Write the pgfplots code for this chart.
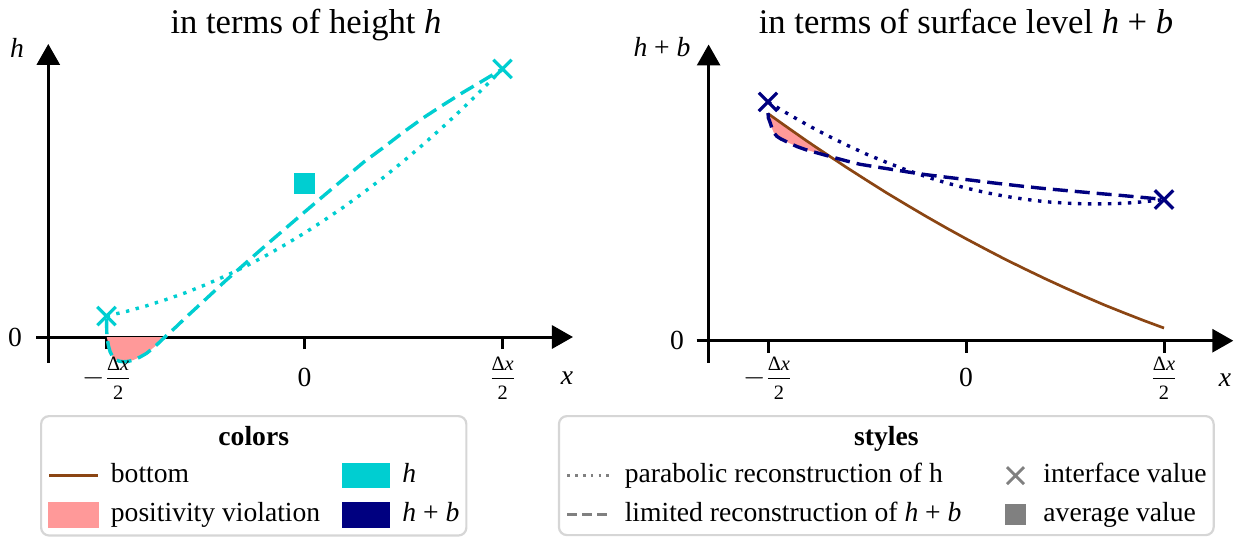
\documentclass[border=0pt]{standalone}
\usepackage{fontspec}
\setmainfont{Liberation Serif}
\usepackage{amsmath}
\usepackage{pgfplots}
\pgfplotsset{compat=1.18}
\usetikzlibrary{arrows.meta}
\definecolor{hcol}{HTML}{00CED1}
\definecolor{hbcol}{HTML}{000080}
\definecolor{botcol}{HTML}{8B4513}
\definecolor{viol}{HTML}{FF9999}
\definecolor{legframe}{HTML}{D6D6D6}
\newcommand\lf{\fontsize{13.8}{16}\selectfont}
\newcommand\tf{\fontsize{17.3}{20}\selectfont}
\newcommand\fr[1]{\mbox{\fontsize{10.2}{11}\selectfont #1}}
\newcommand\num{\fr{Δ\textit{x}\rule[-3.4pt]{0pt}{3.4pt}}}
\newcommand\den{\fr{\rule{0pt}{9.6pt}2}}
\newcommand\mhalf{$-\frac{\num}{\den}$}
\newcommand\phalf{$\frac{\num}{\den}$}
\tikzset{
  legsty/.style={draw=legframe, line width=1.1pt, rounded corners=4pt, fill=white, font=\lf,
    inner xsep=3.5pt, inner ysep=4pt, row sep=7pt,
    nodes={inner sep=0pt, text height=9.5pt, text depth=3pt},
    /tikz/every odd column/.style={column sep=6pt}},
}
\pgfplotsset{
  panel/.style={
    x=99pt, y=99pt, anchor=origin, clip=false,
    axis x line=middle, axis y line=left,
    axis line style={line width=1.5pt, -{Triangle[length=10.5pt,width=11.5pt]}},
    xtick={-1,0,1}, ytick={0}, xticklabels={,,}, yticklabels={},
    tick align=outside, major tick length=6pt,
    tick style={line width=1.5pt, black},
  },
  dotst/.style={line width=1.7pt, dash pattern=on 1.7pt off 3.3pt},
  dashst/.style={line width=1.7pt, dash pattern=on 7.5pt off 3.5pt},
}
\begin{document}
\begin{tikzpicture}[font=\lf]
\useasboundingbox (0,0) rectangle (622.5pt,269pt);
% ---------------- left panel ----------------
\begin{axis}[panel, at={(152.25pt,100.5pt)},
  xmin=-1.294, xmax=1.356, ymin=-0.131, ymax=1.48,
  legend columns=2, legend cell align=left,
  legend style={legsty, at={(-0.0158,-0.1632)}, anchor=north west, name=legA,
    /tikz/every even column/.style={column sep=11pt}}]
\addplot[fill=viol, draw=none, forget plot] coordinates {
(-1,0) (-0.998,0) (-0.99,-0.045) (-0.982,-0.074) (-0.97,-0.098) (-0.957,-0.113)
(-0.935,-0.122) (-0.915,-0.125) (-0.89,-0.123) (-0.864,-0.116) (-0.83,-0.101)
(-0.797,-0.082) (-0.75,-0.043) (-0.705,0)};
\addplot[hcol, dotst, forget plot] coordinates {
(-1,0.106) (-0.9,0.129) (-0.8,0.157) (-0.7,0.189) (-0.6,0.224) (-0.5,0.264)
(-0.4,0.308) (-0.3,0.356) (-0.2,0.408) (-0.1,0.465) (0,0.525) (0.1,0.590)
(0.2,0.658) (0.3,0.731) (0.4,0.807) (0.5,0.888) (0.6,0.973) (0.7,1.062)
(0.8,1.155) (0.9,1.253) (1,1.354)};
\addplot[hcol, dashst, forget plot] coordinates {
(-1,0.09) (-0.998,0) (-0.99,-0.045) (-0.982,-0.074) (-0.97,-0.098) (-0.957,-0.113)
(-0.935,-0.122) (-0.915,-0.125) (-0.89,-0.123) (-0.864,-0.116) (-0.83,-0.101)
(-0.797,-0.082) (-0.75,-0.043) (-0.705,0) (-0.65,0.05) (-0.6,0.098) (-0.5,0.19)
(-0.4,0.283) (-0.3,0.371) (-0.2,0.459) (-0.1,0.545) (0,0.631) (0.1,0.716)
(0.2,0.8) (0.3,0.884) (0.4,0.958) (0.5,1.035) (0.6,1.107) (0.7,1.172)
(0.8,1.235) (0.9,1.294) (1,1.354)};
\addplot[hcol, only marks, mark=x, mark size=6.5pt, mark options={line width=1.6pt}, forget plot]
  coordinates {(-1,0.106) (1,1.354)};
\addplot[hcol, only marks, mark=square*, mark size=5pt, mark options={line width=0pt}, forget plot]
  coordinates {(0,0.773)};
\addlegendimage{empty legend}\addlegendentry{\mbox{}}
\addlegendimage{empty legend}\addlegendentry{\mbox{}}
\addlegendimage{legend image code/.code={\draw[botcol,line width=1.4pt,sharp corners](0pt,0pt)--(24pt,0pt);}}
\addlegendentry{bottom}
\addlegendimage{legend image code/.code={\fill[hcol,sharp corners](0pt,-5.75pt) rectangle (23pt,5.75pt);}}
\addlegendentry{\textit{h}}
\addlegendimage{legend image code/.code={\fill[viol,sharp corners](0pt,-5.75pt) rectangle (24pt,5.75pt);}}
\addlegendentry{positivity violation}
\addlegendimage{legend image code/.code={\fill[hbcol,sharp corners](0pt,-5.75pt) rectangle (23pt,5.75pt);}}
\addlegendentry{\textit{h} + \textit{b}}
\end{axis}
% ---------------- right panel ----------------
\begin{axis}[panel, at={(483pt,98.65pt)},
  xmin=-1.300, xmax=1.35, ymin=-0.112, ymax=1.496,
  legend columns=2, legend cell align=left,
  legend style={legsty, at={(-0.2873,-0.1637)}, anchor=north west, name=legB,
    /tikz/every even column/.style={column sep=18.5pt}}]
\addplot[fill=viol, draw=none, forget plot] coordinates {
(-1,1.147) (-0.95,1.111) (-0.9,1.076) (-0.85,1.041) (-0.8,1.006) (-0.768,0.984)
(-0.73,0.959) (-0.695,0.935) (-0.768,0.953) (-0.81,0.965) (-0.852,0.980)
(-0.89,0.997) (-0.92,1.012) (-0.935,1.019) (-0.955,1.032) (-0.97,1.050)
(-0.98,1.072) (-0.99,1.104) (-0.998,1.125) (-1,1.147)};
\addplot[botcol, line width=1.35pt, forget plot] coordinates {
(-1,1.147) (-0.9,1.076) (-0.8,1.006) (-0.7,0.939) (-0.6,0.873) (-0.5,0.809)
(-0.4,0.746) (-0.3,0.686) (-0.2,0.627) (-0.1,0.570) (0,0.515) (0.1,0.462)
(0.2,0.410) (0.3,0.361) (0.4,0.313) (0.5,0.267) (0.6,0.223) (0.7,0.180)
(0.8,0.140) (0.9,0.101) (1,0.064)};
\addplot[hbcol, dotst, forget plot] coordinates {
(-1,1.206) (-0.9,1.146) (-0.8,1.089) (-0.7,1.036) (-0.6,0.987) (-0.5,0.941)
(-0.4,0.900) (-0.3,0.862) (-0.2,0.828) (-0.1,0.797) (0,0.771) (0.1,0.748)
(0.2,0.729) (0.3,0.714) (0.4,0.702) (0.5,0.695) (0.6,0.691) (0.7,0.691)
(0.8,0.694) (0.9,0.702) (1,0.713)};
\addplot[hbcol, dashst, forget plot] coordinates {
(-1,1.15) (-0.998,1.125) (-0.99,1.104) (-0.98,1.072) (-0.97,1.050) (-0.955,1.032)
(-0.935,1.019) (-0.92,1.012) (-0.89,0.997) (-0.852,0.980) (-0.81,0.965)
(-0.768,0.953) (-0.70,0.934) (-0.6,0.907) (-0.535,0.891) (-0.45,0.877)
(-0.367,0.864) (-0.28,0.850) (-0.198,0.838) (-0.1,0.826) (0,0.814) (0.138,0.797)
(0.26,0.783) (0.39,0.769) (0.52,0.757) (0.642,0.746) (0.78,0.734) (0.911,0.722)
(1,0.713)};
\addplot[hbcol, only marks, mark=x, mark size=6.5pt, mark options={line width=1.6pt}, forget plot]
  coordinates {(-1,1.206) (1,0.713)};
\addlegendimage{empty legend}\addlegendentry{\mbox{}}
\addlegendimage{empty legend}\addlegendentry{\mbox{}}
\addlegendimage{legend image code/.code={\draw[gray,line width=1.3pt,dash pattern=on 1.3pt off 2.6pt,sharp corners](0pt,0pt)--(22pt,0pt);}}
\addlegendentry{parabolic reconstruction of h}
\addlegendimage{legend image code/.code={\draw[gray, mark=x, mark size=6pt, mark options={line width=1.4pt}, only marks, mark repeat=2, mark phase=2] plot coordinates {(0cm,0cm) (0.3cm,0cm) (0.6cm,0cm)}; \path[draw=none,fill=none] (8.5pt,0pt) -- (16.5pt,0pt);}}
\addlegendentry{interface value}
\addlegendimage{legend image code/.code={\draw[gray,line width=1.4pt,dash pattern=on 5pt off 2.5pt,sharp corners](0pt,0pt)--(22pt,0pt);}}
\addlegendentry{limited reconstruction of \textit{h} + \textit{b}}
\addlegendimage{legend image code/.code={\draw[gray, mark=square*, mark size=5pt, mark options={line width=0pt, sharp corners}, only marks, mark repeat=2, mark phase=2] plot coordinates {(0cm,0cm) (0.3cm,0cm) (0.6cm,0cm)}; \path[draw=none,fill=none] (8.5pt,0pt) -- (16.5pt,0pt);}}
\addlegendentry{average value}
\end{axis}
% ---------------- texts ----------------
\node[anchor=base, font=\tf] at (153pt,252.5pt) {in terms of height \textit{h}};
\node[anchor=base, font=\tf] at (483pt,252.5pt) {in terms of surface level \textit{h} + \textit{b}};
\node at (8.5pt,245pt) {\textit{h}};
\node at (7.5pt,100.5pt) {0};
\node at (283.5pt,80pt) {\textit{x}};
\node at (53.5pt,80pt) {\mhalf};
\node at (152.25pt,80.5pt) {0};
\node at (251.35pt,80pt) {\phalf};
\node at (331pt,245.5pt) {\textit{h} + \textit{b}};
\node at (338.5pt,99pt) {0};
\node at (612.5pt,79pt) {\textit{x}};
\node at (383.85pt,80pt) {\mhalf};
\node at (483pt,80.5pt) {0};
\node at (582pt,80pt) {\phalf};
\node[anchor=north, font=\lf\bfseries, inner sep=0pt] at ([yshift=-5.5pt]legA.north) {colors};
\node[anchor=north, font=\lf\bfseries, inner sep=0pt] at ([yshift=-5.5pt]legB.north) {styles};
\end{tikzpicture}
\end{document}
